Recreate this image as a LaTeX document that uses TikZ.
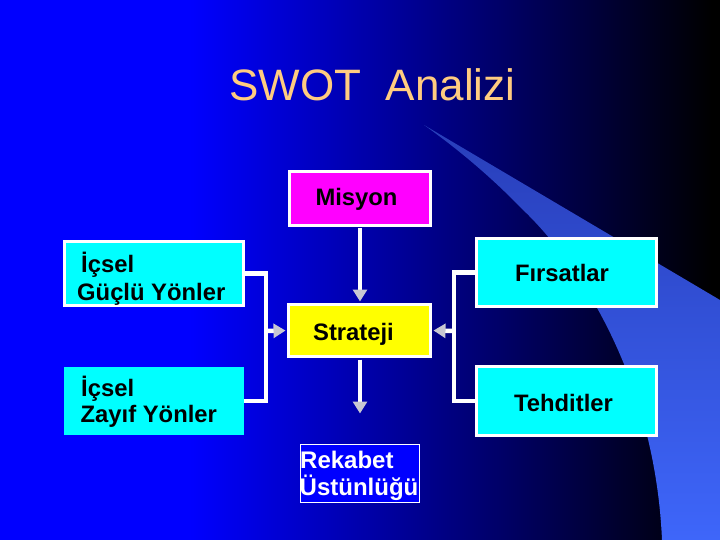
\documentclass[tikz,border=0pt]{standalone}
\usepackage{fontspec}
\setmainfont{Liberation Sans}
\usetikzlibrary{arrows.meta}
\definecolor{ttl}{RGB}{255,204,128}
\definecolor{swoosh}{RGB}{62,102,250}
\definecolor{swooshtop}{RGB}{40,62,185}
\definecolor{tipgray}{RGB}{200,200,210}
\definecolor{bgblue}{RGB}{0,0,255}
\definecolor{boxcyan}{RGB}{0,255,255}
\definecolor{boxmag}{RGB}{255,0,255}
\definecolor{boxyel}{RGB}{255,255,0}
\begin{document}
\begin{tikzpicture}[x=1pt,y=-1pt,
  box/.style={rectangle, draw=white, line width=3pt, inner sep=0pt},
  lbl/.style={font=\fontsize{23.8}{27}\selectfont\bfseries, text=black, inner sep=0pt},
  wlbl/.style={font=\fontsize{24}{27}\selectfont\bfseries, text=white, inner sep=0pt},
  conn/.style={draw=white, line width=4.5pt},
  tiparrow/.style={-{Triangle[length=12pt,width=14pt,color=tipgray]}, shorten >=1.5pt},
]
\useasboundingbox (0,0) rectangle (720,540);
% background
\fill[bgblue] (0,0) rectangle (191,540);
\shade[left color=bgblue, right color=black] (190,0) rectangle (712,540);
\fill[black] (711,0) rectangle (720,540);
% swoosh
\shade[top color=swooshtop, bottom color=swoosh]
  (424,125) -- (720,300) -- (720,540) -- (662,540)
  .. controls (655,380) and (580,263) .. (520,207)
  .. controls (495,181) and (462,152) .. (424,125) -- cycle;
% title
\node[font=\fontsize{44}{50}\selectfont, text=ttl, anchor=base, inner sep=0pt] (title) at (372.5,101) {SWOT\ \ Analizi};
% boxes
\node[box, fill=boxmag, minimum width=141pt, minimum height=54pt] (mb) at (360,198.5) {};
\node[box, fill=boxyel, minimum width=142pt, minimum height=52pt] (sb) at (359.5,330.5) {};
\node[box, fill=boxcyan, minimum width=179pt, minimum height=64pt] (gb) at (154,273.5) {};
\node[rectangle, inner sep=0pt, fill=boxcyan, minimum width=180pt, minimum height=68pt] (zb) at (154,401) {};
\node[box, fill=boxcyan, minimum width=180pt, minimum height=68pt] (fb) at (566.5,272.5) {};
\node[box, fill=boxcyan, minimum width=180pt, minimum height=69pt] (tb) at (566.5,401) {};
\node[rectangle, draw=white, line width=1pt, fill=bgblue, inner sep=0pt, minimum width=119pt, minimum height=58pt] (rb) at (360,473.5) {};
% texts
\node[lbl, anchor=base] (mt) at (356.5,206) {Misyon};
\node[lbl, anchor=base] (st) at (353.5,340) {Strateji};
\node[lbl, anchor=base] (ft) at (562,281.5) {Fırsatlar};
\node[lbl, anchor=base] (tt) at (563.5,411.5) {Tehditler};
\node[lbl, anchor=base west] (g1) at (81,272.7) {İçsel};
\node[lbl, anchor=base west] (g2) at (77,300.5) {Güçlü Yönler};
\node[lbl, anchor=base west] (z1) at (81,396) {İçsel};
\node[lbl, anchor=base west] (z2) at (80.5,422.7) {Zayıf Yönler};
\node[wlbl, anchor=base west] (r1) at (300,468.3) {Rekabet};
\node[wlbl, anchor=base west] (r2) at (299.5,495) {Üstünlüğü};
% connectors
\coordinate (jl) at (266,331);
\coordinate (jr) at (454,331);
\coordinate (rkarr) at (360,415);
\draw[conn] (gb.east) -| (jl) |- (zb.east);
\draw[conn, tiparrow] (jl) -- (sb.west);
\draw[conn] (fb.west) -| (jr) |- (tb.west);
\draw[conn, tiparrow] (jr) -- (sb.east);
\draw[conn, tiparrow, shorten <=1.5pt] (mb.south) -- (mb.south |- sb.north);
\draw[conn, tiparrow, shorten <=1.5pt] (sb.south -| rkarr) -- (rkarr);
\end{tikzpicture}
\end{document}
